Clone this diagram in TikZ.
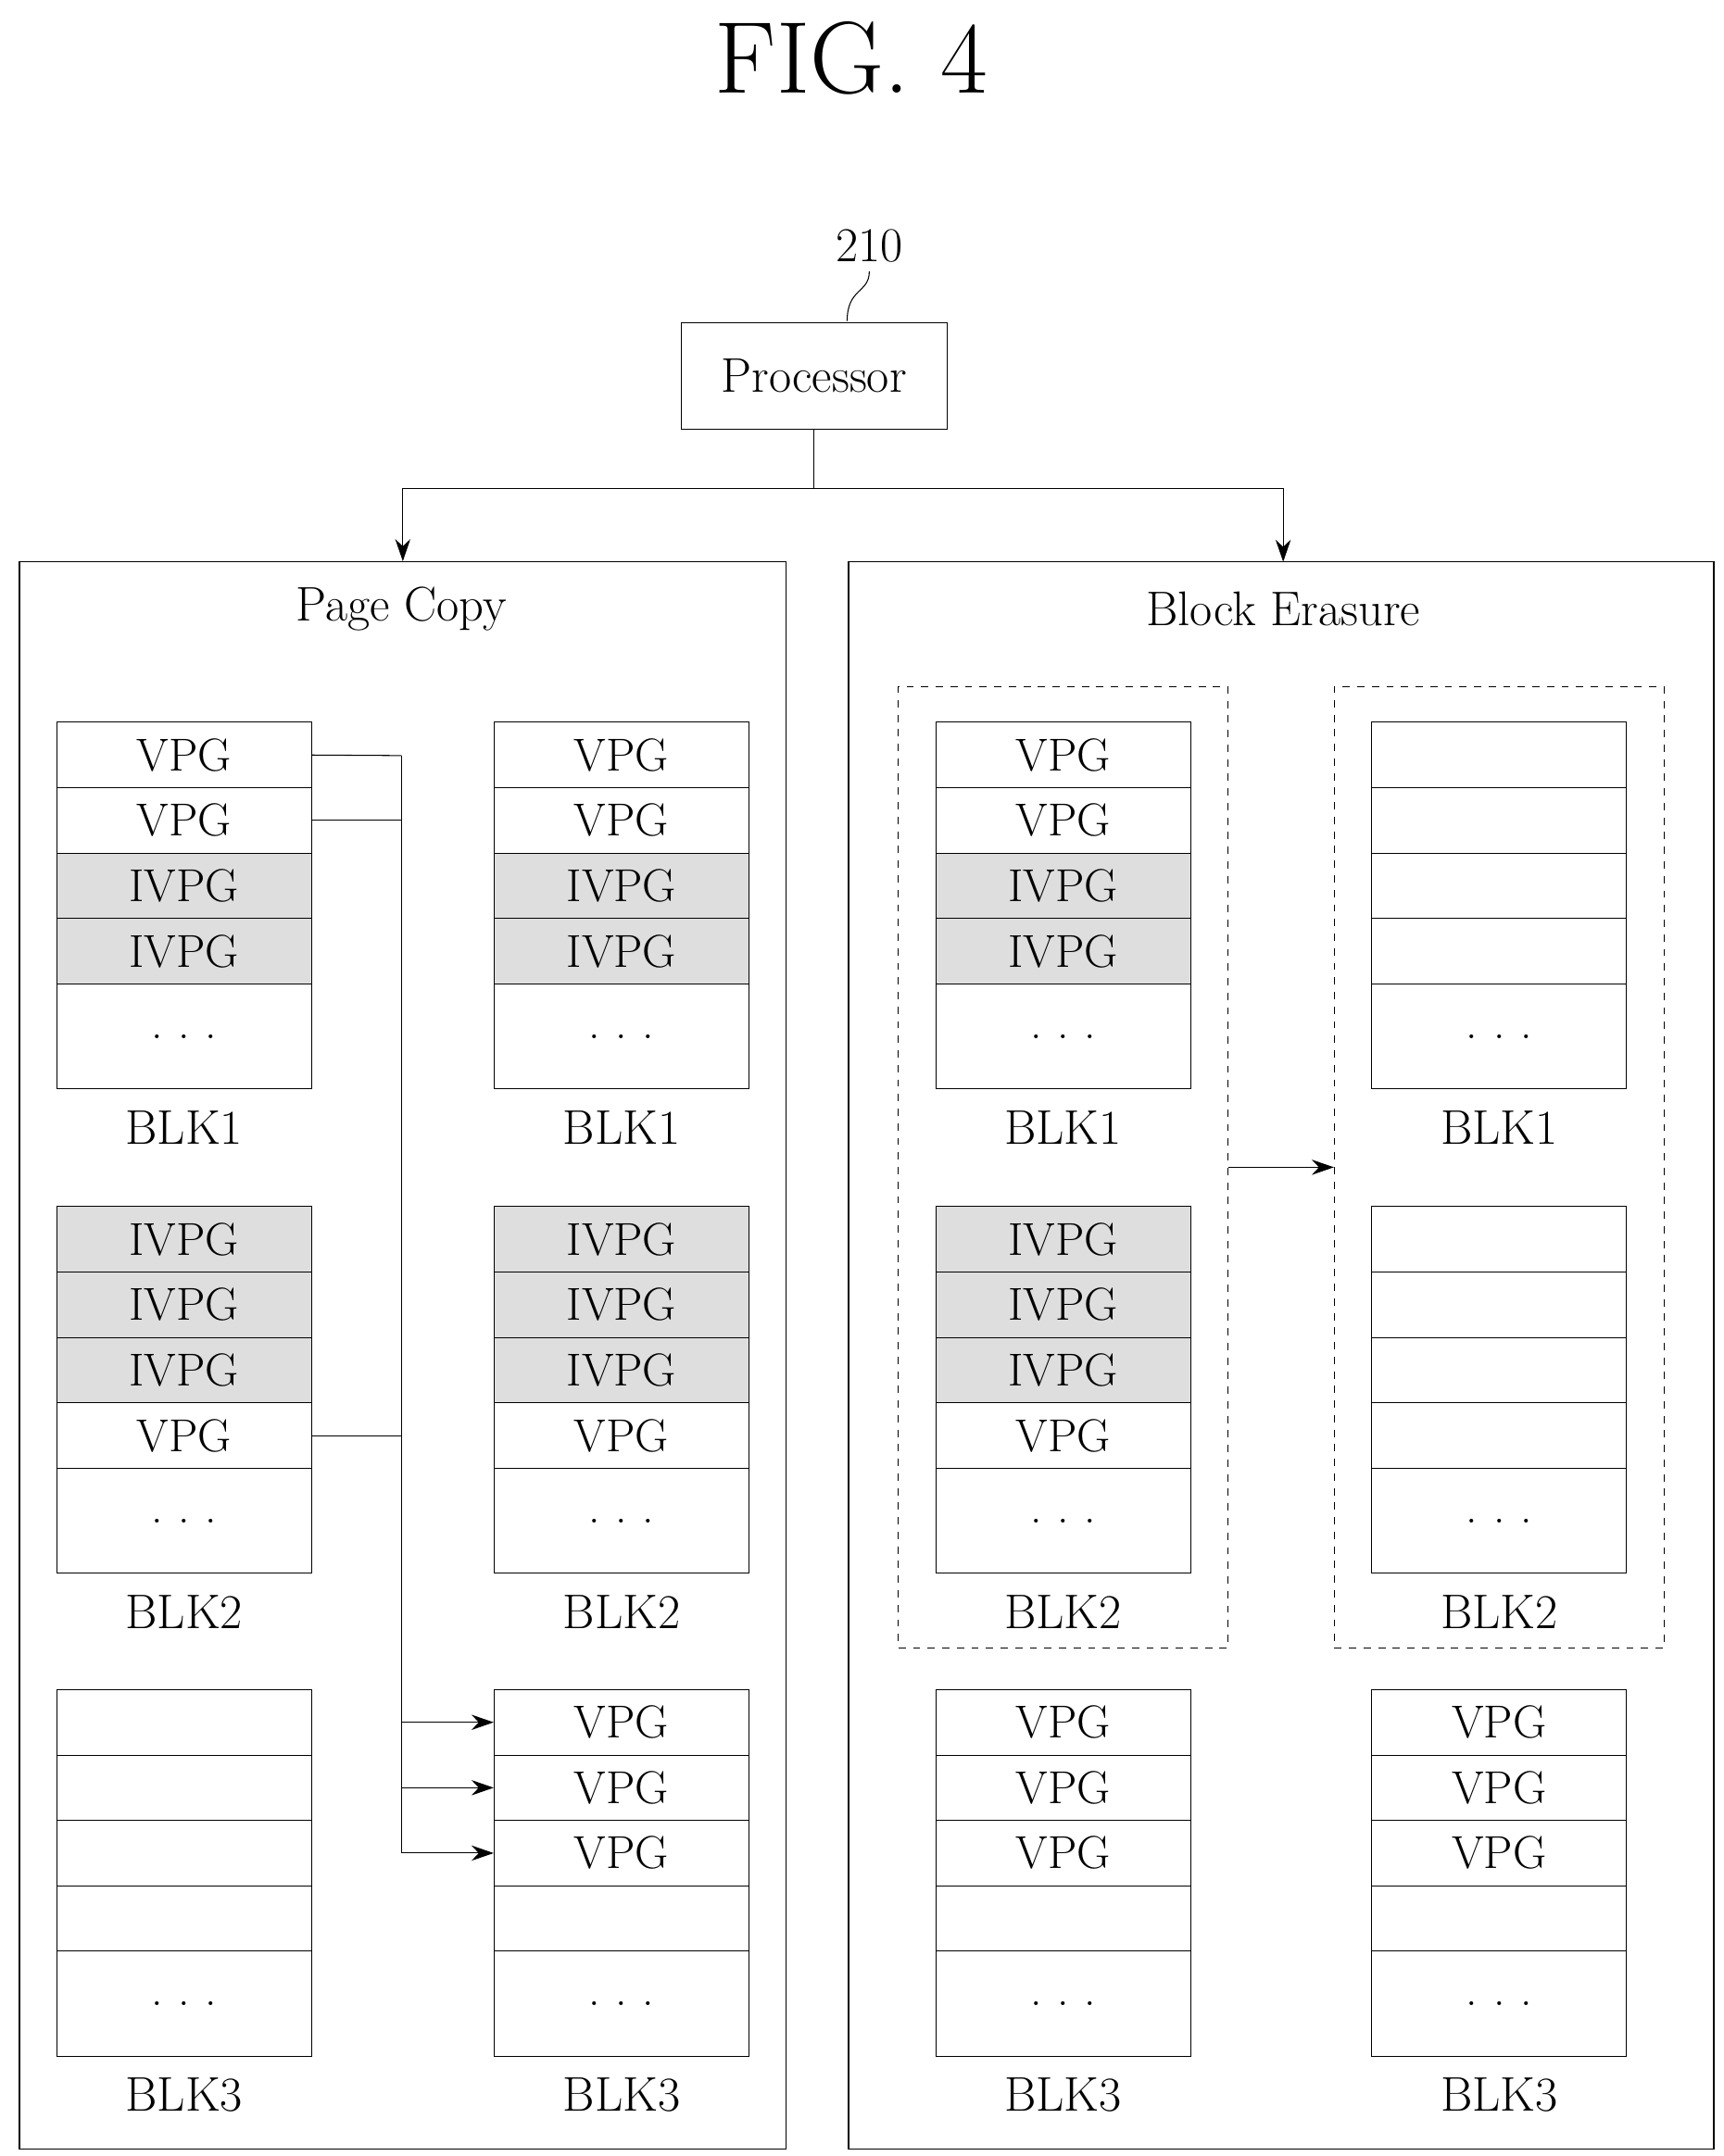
\documentclass[tikz,border=0pt]{standalone}
\usetikzlibrary{arrows.meta,positioning}
\tikzset{
  cell/.style={draw, rectangle, inner sep=0pt, minimum width=36.8mm, minimum height=9.45mm, font=\fontsize{19}{22}\selectfont},
  V/.style={}, I/.style={fill=black!13}, E/.style={},
  lbl/.style={font=\fontsize{20}{24}\selectfont},
  panel/.style={draw, rectangle, inner sep=0pt, line width=0.5pt},
  arr/.style={-{Stealth[length=3.2mm,width=2.2mm]}},
}
\def\txtV{VPG}\def\txtI{IVPG}\def\txtE{}
% one memory block: name, x, y, page list, label
\newcommand\memblk[5]{%
  \foreach \t [count=\i] in {#4} {
    \node[cell,\t] (#1-\i) at ({#2+92},{#3+23.6+47.25*(\i-1)}) {\csname txt\t\endcsname};
  }
  \node[cell, minimum height=15.2mm] (#1-d) at ({#2+92},{#3+189+38}) {.\,\,.\,\,.};
  \node[lbl, below=1.8mm of #1-d] {#5};
}
\begin{document}
\begin{tikzpicture}[x=0.2mm,y=-0.2mm]
  \useasboundingbox (0,0) rectangle (1245,1558);
  \node[font=\fontsize{42}{48}\selectfont] (title) at (615,42) {FIG. 4};

  % processor
  \node[draw, inner sep=0pt, minimum width=38.4mm, minimum height=15.4mm, lbl] (proc) at (588,271.5) {Processor};
  \node[lbl] (ref) at (628,178) {210};
  \draw (ref.south) .. controls (628,212) and (612,208) .. (612,232);

  % panels
  \node[panel, minimum width=110.8mm, minimum height=229.4mm] (pc) at (291,979.5) {};
  \node[panel, minimum width=125mm, minimum height=229.4mm] (be) at (925.5,979.5) {};
  \node[lbl] at (290,440) {Page Copy};
  \node[lbl] at (927,440) {Block Erasure};
  \coordinate (split) at (588,353);
  \draw (proc.south) -- (split);
  \draw[arr] (split) -| (pc.north);
  \draw[arr] (split) -| (927,406);

  % page copy
  \memblk{a1}{41}{522}{V,V,I,I}{BLK1}
  \memblk{a2}{41}{872}{I,I,I,V}{BLK2}
  \memblk{a3}{41}{1221}{E,E,E,E}{BLK3}
  \memblk{b1}{357}{522}{V,V,I,I}{BLK1}
  \memblk{b2}{357}{872}{I,I,I,V}{BLK2}
  \memblk{b3}{357}{1221}{V,V,V,E}{BLK3}
  \coordinate (j1) at (290,546);
  \draw (a1-1.east) -- (j1);
  \draw (a1-2.east) -- (a1-2.east -| j1);
  \draw (a2-4.east) -- (a2-4.east -| j1);
  \draw[arr] (j1) |- (b3-3.west);
  \draw[arr] (b3-1.west -| j1) -- (b3-1.west);
  \draw[arr] (b3-2.west -| j1) -- (b3-2.west);

  % block erasure
  \memblk{c1}{676}{522}{V,V,I,I}{BLK1}
  \memblk{c2}{676}{872}{I,I,I,V}{BLK2}
  \memblk{c3}{676}{1221}{V,V,V,E}{BLK3}
  \memblk{d1}{991}{522}{E,E,E,E}{BLK1}
  \memblk{d2}{991}{872}{E,E,E,E}{BLK2}
  \memblk{d3}{991}{1221}{V,V,V,E}{BLK3}
  \node[draw, dashed, inner sep=0pt, minimum width=47.6mm, minimum height=139mm] (old) at (768,843.5) {};
  \node[draw, dashed, inner sep=0pt, minimum width=47.6mm, minimum height=139mm] (new) at (1083,843.5) {};
  \draw[arr] (old.east) -- (new.west);
\end{tikzpicture}
\end{document}
